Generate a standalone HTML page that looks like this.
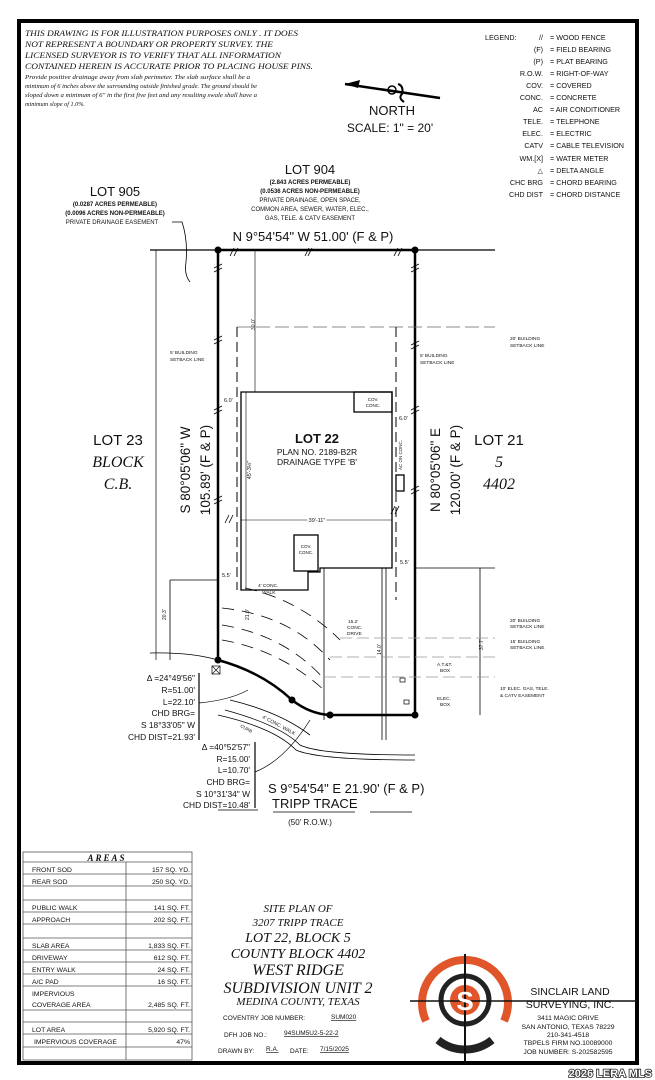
<!DOCTYPE html>
<html><head><meta charset="utf-8"><style>
html,body{margin:0;padding:0;background:#fff;}
svg{display:block;}
text{font-family:"Liberation Sans",sans-serif;fill:#111;}
.s{font-family:"Liberation Serif",serif;font-style:italic;}
</style></head><body>
<svg width="655" height="1080" viewBox="0 0 655 1080" xmlns="http://www.w3.org/2000/svg">
<rect x="0" y="0" width="655" height="1080" fill="#fff"/>
<rect x="19" y="21" width="618" height="1042" fill="none" stroke="#000" stroke-width="4"/>
<!-- top notes -->
<g>
<text class="s" x="25" y="36" font-size="8.6" textLength="273" lengthAdjust="spacingAndGlyphs">THIS DRAWING IS FOR ILLUSTRATION PURPOSES ONLY . IT DOES</text>
<text class="s" x="25" y="47" font-size="8.6" textLength="248" lengthAdjust="spacingAndGlyphs">NOT REPRESENT A BOUNDARY OR PROPERTY SURVEY. THE</text>
<text class="s" x="25" y="58" font-size="8.6" textLength="256" lengthAdjust="spacingAndGlyphs">LICENSED SURVEYOR IS TO VERIFY THAT ALL INFORMATION</text>
<text class="s" x="25" y="69" font-size="8.6" textLength="288" lengthAdjust="spacingAndGlyphs">CONTAINED HEREIN IS ACCURATE PRIOR TO PLACING HOUSE PINS.</text>
</g>
<g font-size="6.2">
<text class="s" x="25" y="79" textLength="225" lengthAdjust="spacingAndGlyphs">Provide positive drainage away from slab perimeter. The slab surface shall be a</text>
<text class="s" x="25" y="88" textLength="232" lengthAdjust="spacingAndGlyphs">minimum of 6 inches above the surrounding outside finished grade. The ground should be</text>
<text class="s" x="25" y="97" textLength="232" lengthAdjust="spacingAndGlyphs">sloped down a minimum of 6" in the first five feet and any resulting swale shall have a</text>
<text class="s" x="25" y="106">minimum slope of 1.0%.</text>
</g>
<!-- north arrow -->
<path d="M345 84 L440 98" stroke="#000" stroke-width="2.5"/>
<path d="M345 84 L360 80 L358 88 Z" fill="#000"/>
<circle cx="392" cy="90" r="4" fill="none" stroke="#000" stroke-width="1.5"/>
<path d="M398 84 q6 2 4 10 q-4 4 2 8" fill="none" stroke="#000" stroke-width="2"/>
<text x="392" y="115" font-size="13" text-anchor="middle">NORTH</text>
<text x="390" y="132" font-size="12" text-anchor="middle">SCALE:  1"  =  20'</text>
<!-- legend -->
<g font-size="7.2">
<text x="485" y="40">LEGEND:</text>
<g text-anchor="end">
<text x="543" y="40">//</text><text x="543" y="52">(F)</text><text x="543" y="64">(P)</text>
<text x="543" y="76">R.O.W.</text><text x="543" y="88">COV.</text><text x="543" y="100">CONC.</text>
<text x="543" y="112">AC</text><text x="543" y="124">TELE.</text><text x="543" y="136">ELEC.</text>
<text x="543" y="148">CATV</text><text x="543" y="161">WM.[X]</text><text x="543" y="173">△</text>
<text x="543" y="185">CHC BRG</text><text x="543" y="197">CHD DIST</text>
</g>
<text x="550" y="40">= WOOD FENCE</text><text x="550" y="52">= FIELD BEARING</text>
<text x="550" y="64">= PLAT BEARING</text><text x="550" y="76">= RIGHT-OF-WAY</text>
<text x="550" y="88">= COVERED</text><text x="550" y="100">= CONCRETE</text>
<text x="550" y="112">= AIR CONDITIONER</text><text x="550" y="124">= TELEPHONE</text>
<text x="550" y="136">= ELECTRIC</text><text x="550" y="148">= CABLE TELEVISION</text>
<text x="550" y="161">= WATER METER</text><text x="550" y="173">= DELTA ANGLE</text>
<text x="550" y="185">= CHORD BEARING</text><text x="550" y="197">= CHORD DISTANCE</text>
</g>
<!-- lot 904 / 905 -->
<text x="310" y="174" font-size="13" text-anchor="middle">LOT 904</text>
<g font-size="6" text-anchor="middle">
<text x="310" y="184" font-weight="bold">(2.843 ACRES PERMEABLE)</text>
<text x="310" y="193" font-weight="bold">(0.0536 ACRES NON-PERMEABLE)</text>
<text x="310" y="202">PRIVATE DRAINAGE, OPEN SPACE,</text>
<text x="310" y="211">COMMON AREA, SEWER, WATER, ELEC.,</text>
<text x="310" y="220">GAS, TELE. &amp; CATV EASEMENT</text>
</g>
<text x="115" y="196" font-size="13" text-anchor="middle">LOT 905</text>
<g font-size="6" text-anchor="middle">
<text x="115" y="206" font-weight="bold">(0.0287 ACRES PERMEABLE)</text>
<text x="115" y="215" font-weight="bold">(0.0096 ACRES NON-PERMEABLE)</text>
<text x="112" y="224">PRIVATE DRAINAGE EASEMENT</text>
</g>
<path d="M172 222 L182 222 Q188 240 186 262 Q184 275 190 282" fill="none" stroke="#000" stroke-width="0.8"/>
<text x="313" y="241" font-size="13" text-anchor="middle">N 9°54'54"  W 51.00'  (F &amp; P)</text>
<!-- lot lines -->
<line x1="150" y1="250" x2="495" y2="250" stroke="#000" stroke-width="1.2"/>
<line x1="156" y1="250" x2="156" y2="660" stroke="#000" stroke-width="0.7"/>
<g stroke="#000" stroke-width="2.5" fill="none">
<line x1="218" y1="250" x2="415" y2="250"/>
<line x1="218" y1="250" x2="218" y2="660"/>
<line x1="415" y1="250" x2="415" y2="715"/>
<line x1="330" y1="715" x2="415" y2="715"/>
<path d="M218 660 Q262 672 292 700 Q310 714 330 715"/>
</g>
<path d="M150 653 Q190 652 218 660" fill="none" stroke="#000" stroke-width="0.8"/>
<g fill="#000"><circle cx="218" cy="250" r="3.5"/><circle cx="415" cy="250" r="3.5"/><circle cx="218" cy="660" r="3.5"/><circle cx="292" cy="700" r="3.5"/><circle cx="330" cy="715" r="3.5"/><circle cx="415" cy="715" r="3.5"/></g>
<!-- fence ticks -->
<g stroke="#000" stroke-width="0.8">
<path d="M230 256 l4 -8 M234 256 l4 -8 M305 256 l4 -8 M308 256 l4 -8 M394 256 l4 -8 M398 256 l4 -8"/>
<path d="M214 268 l8 -4 M214 272 l8 -4 M214 340 l8 -4 M214 344 l8 -4 M214 410 l8 -4 M214 414 l8 -4 M214 500 l8 -4 M214 504 l8 -4"/>
<path d="M411 268 l8 -4 M411 272 l8 -4 M411 345 l8 -4 M411 349 l8 -4 M411 410 l8 -4 M411 414 l8 -4 M411 490 l8 -4 M411 494 l8 -4"/>
<path d="M225 523 l4 -8 M229 523 l4 -8 M391 514 l4 -8 M395 514 l4 -8"/>
</g>
<!-- setbacks -->
<line x1="237" y1="327" x2="495" y2="327" stroke="#666" stroke-width="0.7" stroke-dasharray="14 5"/>
<line x1="237" y1="327" x2="237" y2="590" stroke="#000" stroke-width="1" stroke-dasharray="10 5"/>
<line x1="396" y1="327" x2="396" y2="600" stroke="#000" stroke-width="1" stroke-dasharray="10 5"/>
<line x1="255" y1="250" x2="255" y2="392" stroke="#000" stroke-width="0.6"/>
<text transform="translate(255,330) rotate(-90)" font-size="5">30.0'</text>
<!-- building -->
<g stroke="#000" fill="none" stroke-width="1.3">
<path d="M241 392 L392 392 L392 568 L320 568 L320 572 L308 572 L308 590 L241 590 Z"/>
<rect x="354" y="392" width="38" height="20"/>
<rect x="294" y="535" width="24" height="36"/>
<rect x="396" y="475" width="8" height="16"/>
<line x1="246" y1="392" x2="246" y2="590" stroke-width="0.6"/>
</g>
<g font-size="4.5" text-anchor="middle"><text x="373" y="401">COV.</text><text x="373" y="407">CONC.</text><text x="306" y="548">COV.</text><text x="306" y="554">CONC.</text></g>
<text transform="translate(402,470) rotate(-90)" font-size="4.5">AC ON CONC.</text>
<text x="317" y="443" font-size="13" text-anchor="middle" font-weight="bold">LOT 22</text>
<text x="317" y="455" font-size="8.5" text-anchor="middle">PLAN NO. 2189-B2R</text>
<text x="317" y="465" font-size="8.5" text-anchor="middle">DRAINAGE TYPE 'B'</text>
<line x1="241" y1="520" x2="392" y2="520" stroke="#000" stroke-width="0.5"/>
<text x="317" y="522" font-size="5.5" text-anchor="middle" fill="#000" style="paint-order:stroke" stroke="#fff" stroke-width="3">39'-11"</text>
<text transform="translate(251,470) rotate(-90)" font-size="5.5" text-anchor="middle">45'-3½"</text>
<g font-size="5.5"><text x="224" y="402">6.0'</text><text x="399" y="420">6.0'</text><text x="222" y="577">5.5'</text><text x="400" y="564">5.5'</text></g>
<g font-size="4.8">
<text x="170" y="354">5' BUILDING</text><text x="170" y="361">SETBACK LINE</text>
<text x="420" y="357">5' BUILDING</text><text x="420" y="364">SETBACK LINE</text>
<text x="510" y="340">20' BUILDING</text><text x="510" y="347">SETBACK LINE</text>
<text x="510" y="622">20' BUILDING</text><text x="510" y="628">SETBACK LINE</text>
<text x="510" y="643">15' BUILDING</text><text x="510" y="649">SETBACK LINE</text>
<text x="500" y="690">10' ELEC. GAS, TELE.</text><text x="500" y="697">&amp; CATV EASEMENT</text>
<text x="437" y="666">A.T.&amp;T.</text><text x="440" y="672">BOX</text>
<text x="437" y="700">ELEC.</text><text x="440" y="706">BOX</text>
<text x="258" y="587">4' CONC.</text><text x="262" y="594">WALK</text>
<text x="348" y="623">15.2'</text><text x="347" y="629">CONC.</text><text x="347" y="635">DRIVE</text>
</g>
<!-- driveway area -->
<g stroke="#000" fill="none" stroke-width="0.8">
<line x1="324" y1="568" x2="324" y2="720"/>
<line x1="382" y1="568" x2="382" y2="740"/>
<line x1="386" y1="568" x2="386" y2="740"/>
<path d="M170 580 L170 660 M170 580 L218 580"/>
<line x1="480" y1="568" x2="480" y2="715"/>
<line x1="415" y1="568" x2="495" y2="568"/>
</g>
<g stroke="#000" stroke-width="0.8" fill="none" stroke-dasharray="12 8">
<path d="M245 588 Q300 600 340 640"/>
<path d="M222 608 Q290 615 330 660"/>
<path d="M222 625 Q285 635 325 680"/>
<path d="M222 640 Q280 650 324 690"/>
</g>
<g stroke="#999" stroke-width="0.7" stroke-dasharray="12 5">
<line x1="340" y1="638" x2="495" y2="638"/><line x1="330" y1="657" x2="495" y2="657"/><line x1="324" y1="677" x2="495" y2="677"/>
</g>
<text transform="translate(166,620) rotate(-90)" font-size="5">20.3'</text>
<text transform="translate(381,655) rotate(-90)" font-size="5">14.0'</text>
<text transform="translate(483,650) rotate(-90)" font-size="5">37.7'</text>
<text transform="translate(249,620) rotate(-90)" font-size="5">21.0'</text>
<rect x="212" y="666" width="8" height="8" fill="none" stroke="#000" stroke-width="0.7"/>
<path d="M212 666 l8 8 M220 666 l-8 8" stroke="#000" stroke-width="0.6"/>
<rect x="400" y="678" width="5" height="4" fill="none" stroke="#000" stroke-width="0.7"/>
<rect x="404" y="700" width="5" height="4" fill="none" stroke="#000" stroke-width="0.7"/>
<!-- walk/curb -->
<g stroke="#000" fill="none" stroke-width="0.8">
<path d="M225 710 Q280 725 300 745 Q320 755 415 755"/>
<path d="M218 715 Q275 728 296 750 Q318 760 415 760"/>
<path d="M230 700 Q280 712 310 735"/>
</g>
<text transform="translate(262,718) rotate(28)" font-size="5">4' CONC. WALK</text>
<text transform="translate(240,727) rotate(28)" font-size="4.5">CURB</text>
<!-- side labels -->
<text x="118" y="445" font-size="15" text-anchor="middle">LOT 23</text>
<text x="118" y="467" font-size="16" text-anchor="middle" class="s">BLOCK</text>
<text x="118" y="489" font-size="16" text-anchor="middle" class="s">C.B.</text>
<text x="499" y="445" font-size="15" text-anchor="middle">LOT 21</text>
<text x="499" y="467" font-size="16" text-anchor="middle" class="s">5</text>
<text x="499" y="489" font-size="16" text-anchor="middle" class="s">4402</text>
<text transform="translate(190,470) rotate(-90)" font-size="13.5" text-anchor="middle">S 80°05'06"  W</text>
<text transform="translate(210,470) rotate(-90)" font-size="13.5" text-anchor="middle">105.89'  (F &amp; P)</text>
<text transform="translate(440,470) rotate(-90)" font-size="13.5" text-anchor="middle">N 80°05'06"  E</text>
<text transform="translate(460,470) rotate(-90)" font-size="13.5" text-anchor="middle">120.00'  (F &amp; P)</text>
<!-- curve data -->
<g font-size="8.4" text-anchor="end">
<text x="195" y="681">Δ =24°49'56"</text><text x="195" y="693">R=51.00'</text><text x="195" y="705">L=22.10'</text>
<text x="195" y="716">CHD BRG=</text><text x="195" y="728">S 18°33'05"  W</text><text x="195" y="740">CHD DIST=21.93'</text>
<text x="250" y="750">Δ =40°52'57"</text><text x="250" y="762">R=15.00'</text><text x="250" y="773">L=10.70'</text>
<text x="250" y="785">CHD BRG=</text><text x="250" y="797">S 10°31'34"  W</text><text x="250" y="808">CHD DIST=10.48'</text>
</g>
<path d="M199 673 V740 M255 742 V808" stroke="#000" stroke-width="1.2"/>
<path d="M199 703 Q230 700 248 690 M255 772 Q285 760 310 720" fill="none" stroke="#000" stroke-width="0.7"/>
<text x="268" y="793" font-size="13">S 9°54'54"  E  21.90'  (F &amp; P)</text>
<text x="272" y="808" font-size="13">TRIPP TRACE</text>
<path d="M218 810 H258 M273 812 H355 M370 812 H412" stroke="#000" stroke-width="0.8"/>
<text x="310" y="825" font-size="8" text-anchor="middle">(50' R.O.W.)</text>
<!-- areas table -->
<g stroke="#555" stroke-width="0.8" fill="none">
<rect x="23" y="852" width="169" height="208"/>
<line x1="126" y1="862" x2="126" y2="1060"/>
<path d="M23 862 H192 M23 874 H192 M23 886 H192 M23 900 H192 M23 912 H192 M23 924 H192 M23 938 H192 M23 950 H192 M23 962 H192 M23 974 H192 M23 986 H192 M23 1010 H192 M23 1022 H192 M23 1034 H192 M23 1047 H192"/>
</g>
<text x="107" y="861" font-size="9" text-anchor="middle" class="s" font-weight="bold" letter-spacing="2">AREAS</text>
<g font-size="6.8">
<text x="32" y="872">FRONT SOD</text><text x="32" y="884">REAR SOD</text>
<text x="32" y="910">PUBLIC WALK</text><text x="32" y="922">APPROACH</text>
<text x="32" y="948">SLAB AREA</text><text x="32" y="960">DRIVEWAY</text><text x="32" y="972">ENTRY WALK</text><text x="32" y="984">A/C PAD</text>
<text x="32" y="996">IMPERVIOUS</text><text x="32" y="1007">COVERAGE AREA</text>
<text x="32" y="1032">LOT AREA</text><text x="34" y="1044">IMPERVIOUS COVERAGE</text>
</g>
<g font-size="6.8" text-anchor="end">
<text x="190" y="872">157 SQ. YD.</text><text x="190" y="884">250 SQ. YD.</text>
<text x="190" y="910">141 SQ. FT.</text><text x="190" y="922">202 SQ. FT.</text>
<text x="190" y="948">1,833 SQ. FT.</text><text x="190" y="960">612 SQ. FT.</text><text x="190" y="972">24 SQ. FT.</text><text x="190" y="984">16 SQ. FT.</text>
<text x="190" y="1007">2,485 SQ. FT.</text><text x="190" y="1032">5,920 SQ. FT.</text><text x="190" y="1044">47%</text>
</g>
<!-- title block -->
<g text-anchor="middle">
<text class="s" x="298" y="912" font-size="11">SITE PLAN OF</text>
<text class="s" x="298" y="926" font-size="11">3207 TRIPP TRACE</text>
<text class="s" x="298" y="942" font-size="14">LOT 22, BLOCK 5</text>
<text class="s" x="298" y="958" font-size="14">COUNTY BLOCK 4402</text>
<text class="s" x="298" y="975" font-size="16">WEST RIDGE</text>
<text class="s" x="298" y="993" font-size="16">SUBDIVISION UNIT 2</text>
<text class="s" x="298" y="1005" font-size="11">MEDINA COUNTY, TEXAS</text>
</g>
<g font-size="6.5">
<text x="223" y="1020">COVENTRY JOB NUMBER:</text><text x="331" y="1019" text-decoration="underline">  SUM020  </text>
<text x="224" y="1037">DFH JOB NO.:</text><text x="284" y="1035" text-decoration="underline">94SUM5U2-5-22-2</text>
<text x="218" y="1053">DRAWN BY:</text><text x="266" y="1051" text-decoration="underline"> R.A. </text><text x="290" y="1053">DATE:</text><text x="320" y="1051" text-decoration="underline">  7/15/2025  </text>
</g>
<!-- logo -->
<g>
<path d="M426 1021 A43 43 0 1 1 504 1021" fill="none" stroke="#e0552a" stroke-width="8"/>
<path d="M438 1040 A43 43 0 0 0 492 1040" fill="none" stroke="#222" stroke-width="8"/>
<circle cx="465" cy="1000" r="24" fill="none" stroke="#222" stroke-width="5"/>
<circle cx="465" cy="1000" r="15" fill="#e0552a"/>
<line x1="465" y1="954" x2="465" y2="1062" stroke="#111" stroke-width="2"/>
<line x1="410" y1="1001" x2="637" y2="1001" stroke="#111" stroke-width="1.5"/>
<text x="465" y="1010" font-size="26" font-weight="bold" text-anchor="middle" style="fill:#fff">S</text>
</g>
<text x="570" y="995" font-size="10.5" text-anchor="middle">SINCLAIR  LAND</text>
<text x="570" y="1008" font-size="10.5" text-anchor="middle">SURVEYING, INC.</text>
<g font-size="6.8" text-anchor="middle">
<text x="568" y="1020">3411 MAGIC DRIVE</text><text x="568" y="1029">SAN ANTONIO, TEXAS 78229</text>
<text x="568" y="1037">210-341-4518</text><text x="568" y="1045">TBPELS FIRM NO.10089000</text>
<text x="568" y="1054">JOB NUMBER: S-202582595</text>
</g>
<text x="652" y="1077" font-size="11" font-weight="bold" text-anchor="end" style="fill:#fff;paint-order:stroke" stroke="#222" stroke-width="1.6">2026 LERA MLS</text>
</svg>
</body></html>
